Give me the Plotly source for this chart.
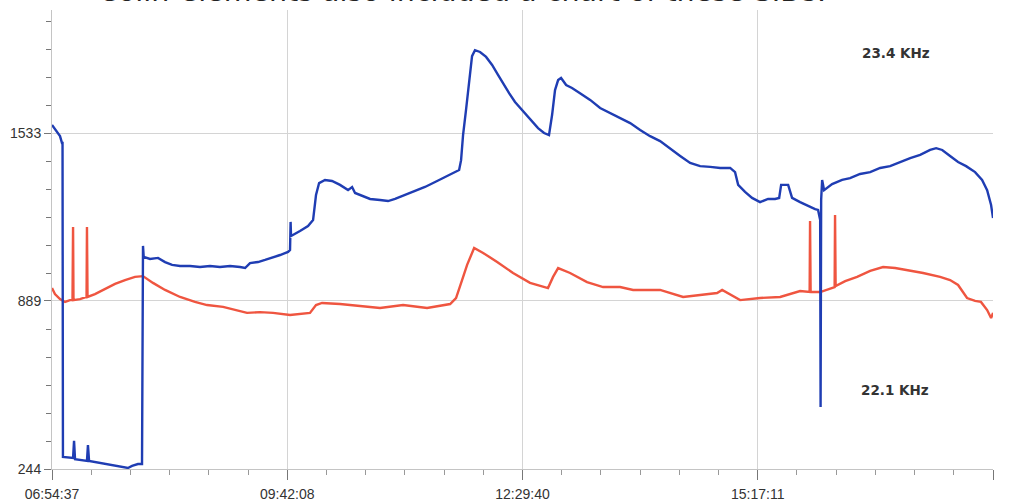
import numpy as np
import plotly.graph_objects as go

# ---- data (x = minutes elapsed since 06:54:37) ----
blue_min = [0, 2.8, 5.7, 7.1, 7.5, 7.8, 15.0, 15.7, 16.4, 24.9, 25.6, 26.4, 34.2, 41.3, 48.4, 54.1, 57.0, 61.2, 64.1,
            64.8, 65.3, 69.8, 75.5, 80.5, 85.5, 91.2, 98.3, 105.4, 112.5, 119.6, 126.8, 133.9, 137.5, 141.0, 146.7,
            151.7, 156.7, 162.4, 168.1, 169.5, 169.9, 170.2, 176.6, 182.3, 185.9, 188.0, 190.2, 194.4, 199.4, 205.1,
            210.8, 213.7, 215.8, 220.8, 226.5, 233.6, 239.3, 244.3, 251.4, 258.5, 265.6, 272.8, 279.9, 287.0, 289.9,
            291.3, 292.7, 294.8, 297.0, 299.1, 301.2, 304.8, 309.1, 313.4, 317.6, 321.9, 324.0, 325.5, 329.7, 334.7,
            340.4, 346.1, 350.4, 353.9, 356.1, 358.2, 360.4, 362.5, 366.1, 370.3, 376.0, 383.2, 390.3, 397.4, 404.5,
            411.7, 418.8, 425.9, 433.0, 440.2, 447.3, 454.4, 461.5, 468.7, 475.8, 482.9, 486.4, 488.6, 493.5, 498.5,
            504.2, 509.9, 514.9, 517.8, 519.2, 524.2, 527.0, 532.7, 538.4, 543.4, 545.5, 547.0, 547.3, 547.7, 548.4,
            549.8, 555.5, 562.6, 568.3, 575.4, 582.6, 589.7, 596.8, 603.9, 611.1, 618.2, 625.3, 629.6, 633.9, 639.5,
            645.2, 650.9, 657.3, 662.3, 665.9, 668.7, 670.1]
blue_val = [1564, 1545, 1521, 1495, 1495, 290, 286, 352, 282, 275, 336, 275, 267, 259, 252, 248, 256, 263, 263,
            1100, 1058, 1050, 1054, 1038, 1027, 1023, 1023, 1019, 1023, 1019, 1023, 1019, 1015, 1034, 1038,
            1046, 1054, 1065, 1077, 1084, 1192, 1138, 1157, 1176, 1199, 1295, 1341, 1353, 1349, 1334,
            1314, 1326, 1303, 1291, 1280, 1276, 1272, 1280, 1295, 1311, 1326, 1345, 1364, 1383, 1391,
            1429, 1525, 1621, 1736, 1828, 1851, 1844, 1825, 1794, 1756, 1717, 1702, 1686, 1652, 1621,
            1583, 1552, 1533, 1525, 1602, 1698, 1736, 1744, 1717, 1706, 1686, 1660, 1629, 1610, 1591,
            1571, 1545, 1521, 1502, 1475, 1445, 1418, 1406, 1403, 1399, 1399, 1383, 1334, 1307, 1284,
            1268, 1280, 1280, 1284, 1334, 1334, 1284, 1268, 1253, 1241, 1238, 1199, 482, 1276, 1353,
            1314, 1337, 1353, 1360, 1376, 1383, 1399, 1406, 1422, 1437, 1449, 1468, 1475, 1468, 1445,
            1422, 1406, 1383, 1353, 1314, 1257, 1207]

red_min = [0, 2.1, 5.7, 9.3, 12.8, 14.6, 15.0, 15.3, 19.9, 24.6, 24.9, 25.3, 30.6, 37.7, 44.9, 52.0, 59.1, 64.8,
           71.9, 80.5, 91.2, 101.8, 110.4, 121.8, 130.3, 138.9, 148.1, 157.4, 169.5, 183.7, 188.0, 192.3, 205.1,
           219.3, 233.6, 250.0, 267.1, 283.5, 287.7, 292.0, 295.6, 300.6, 307.0, 317.0, 328.3, 340.4, 353.2, 356.8,
           360.4, 368.9, 381.0, 392.4, 404.5, 413.8, 433.0, 449.4, 461.5, 473.6, 477.2, 490.0, 504.2, 518.5, 532.7,
           539.5, 539.8, 540.2, 547.0, 554.1, 557.3, 557.6, 558.0, 564.8, 573.3, 582.6, 591.8, 600.4, 608.9, 620.3,
           632.4, 639.5, 645.2, 651.6, 657.3, 661.5, 665.9, 668.7, 670.1]
red_val = [938, 915, 896, 885, 892, 892, 1172, 892, 896, 904, 1172, 904, 915, 935, 954, 969, 981, 984,
           958, 931, 904, 885, 873, 866, 854, 843, 846, 843, 835, 843, 873, 881, 877,
           869, 862, 873, 862, 877, 900, 969, 1027, 1092, 1073, 1038, 996, 958, 938, 981,
           1015, 996, 961, 942, 942, 931, 931, 904, 912, 919, 931, 892, 900, 904, 927,
           923, 1195, 923, 923, 938, 942, 1218, 946, 965, 981, 1004, 1019, 1015, 1008, 996,
           981, 969, 950, 900, 889, 885, 854, 823, 843]

x_tick_minutes = [0, 167.52, 335.03, 502.55, 670.07]
x_tick_labels = ["06:54:37", "09:42:08", "12:29:40", "15:17:11", "18:04:42"]
y_tick_values = [244, 889, 1533]
y_tick_labels = ["244", "889", "1533"]
series_labels = ["23.4 KHz", "22.1 KHz"]
page_caption = "Colin Clements also included a chart of these SIDs."

BLUE = "#1f3db3"
RED = "#ef5540"

fig = go.Figure()
fig.add_trace(go.Scatter(x=red_min, y=red_val, mode="lines",
                         line=dict(color=RED, width=2.4), showlegend=False))
fig.add_trace(go.Scatter(x=blue_min, y=blue_val, mode="lines",
                         line=dict(color=BLUE, width=2.4), showlegend=False))

x_step = x_tick_minutes[1] - x_tick_minutes[0]
x_minor = [x_tick_minutes[0] + i * x_step / 6 for i in range(25) if i % 6]
y_step = (y_tick_values[2] - y_tick_values[0]) / 2
y_minor = [y_tick_values[0] + i * y_step / 6 for i in range(1, 17) if i % 6]

fig.update_xaxes(range=[0, 670.07], tickmode="array", tickvals=x_tick_minutes, ticktext=x_tick_labels,
                 automargin=False,
                 showgrid=True, gridcolor="#d4d4d4", gridwidth=1, zeroline=False,
                 showline=True, linecolor="#c4c4c4", linewidth=1,
                 ticks="outside", ticklen=10, tickcolor="#777", tickwidth=1,
                 ticklabelstandoff=2,
                 minor=dict(tickvals=x_minor, ticks="outside", ticklen=5, tickcolor="#999", showgrid=False),
                 tickfont=dict(family="Liberation Sans, Arial", size=14, color="#333"))
fig.update_yaxes(range=[244, 2005], tickmode="array", tickvals=y_tick_values, ticktext=y_tick_labels,
                 automargin=False,
                 showgrid=True, gridcolor="#d4d4d4", gridwidth=1, zeroline=False,
                 showline=True, linecolor="#c4c4c4", linewidth=1,
                 ticks="outside", ticklen=7, tickcolor="#777", tickwidth=1,
                 minor=dict(tickvals=y_minor, ticks="outside", ticklen=5, tickcolor="#777", showgrid=False),
                 tickfont=dict(family="Liberation Sans, Arial", size=14, color="#333"))

fig.add_annotation(x=601, y=1840, text="<b>%s</b>" % series_labels[0], showarrow=False,
                   font=dict(family="DejaVu Sans", size=13.5, color="#333"))
fig.add_annotation(x=600, y=547, text="<b>%s</b>" % series_labels[1], showarrow=False,
                   font=dict(family="DejaVu Sans", size=13.5, color="#333"))
fig.add_annotation(xref="paper", yref="paper", x=45 / 941, y=1 + 1 / 459, xanchor="left", yanchor="bottom",
                   text=page_caption, showarrow=False, borderpad=0,
                   font=dict(family="DejaVu Sans", size=28.5, color="#222"))

fig.update_layout(width=1020, height=504, margin=dict(l=52, r=27, t=10, b=35),
                  plot_bgcolor="white", paper_bgcolor="white")
fig.write_html("out.html", config={"displayModeBar": False},
               post_script="document.body.style.margin='0';")
